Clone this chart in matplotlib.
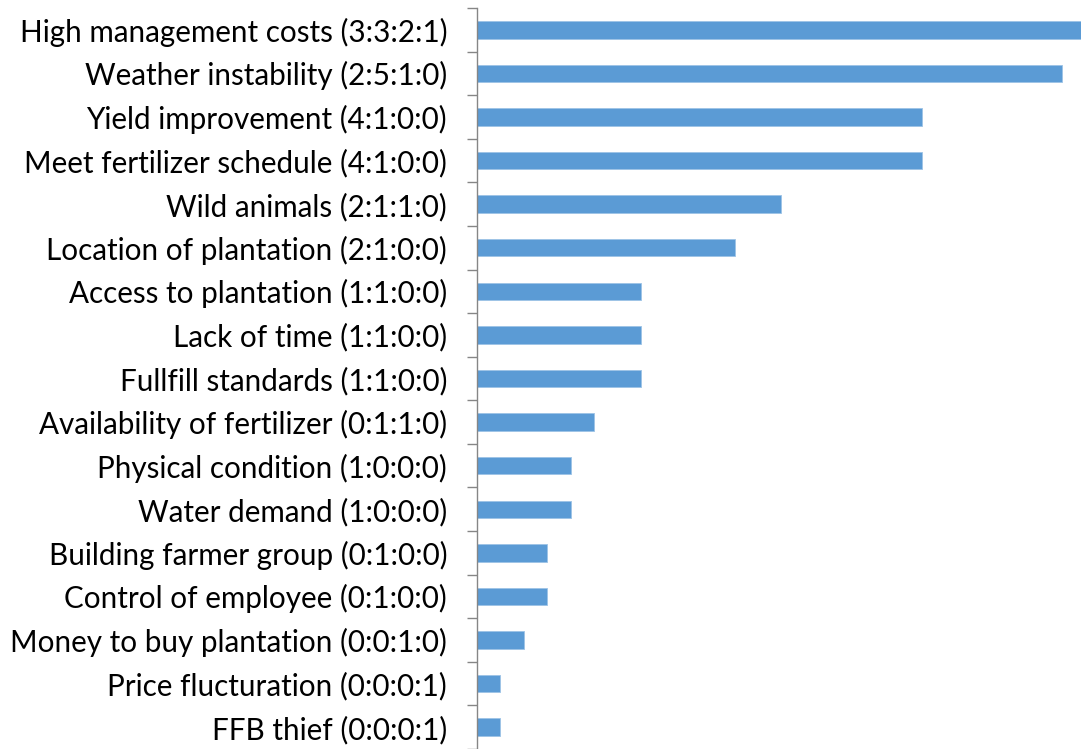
import matplotlib
matplotlib.use("Agg")
import matplotlib.pyplot as plt
import numpy as np

# categories, top to bottom
labels = [
    "High management costs (3:3:2:1)",
    "Weather instability (2:5:1:0)",
    "Yield improvement (4:1:0:0)",
    "Meet fertilizer schedule (4:1:0:0)",
    "Wild animals (2:1:1:0)",
    "Location of plantation (2:1:0:0)",
    "Access to plantation (1:1:0:0)",
    "Lack of time (1:1:0:0)",
    "Fullfill standards (1:1:0:0)",
    "Availability of fertilizer (0:1:1:0)",
    "Physical condition (1:0:0:0)",
    "Water demand (1:0:0:0)",
    "Building farmer group (0:1:0:0)",
    "Control of employee (0:1:0:0)",
    "Money to buy plantation (0:0:1:0)",
    "Price flucturation (0:0:0:1)",
    "FFB thief (0:0:0:1)",
]
scores = [26, 25, 19, 19, 13, 11, 7, 7, 7, 5, 4, 4, 3, 3, 2, 1, 1]

n = len(labels)
y = np.arange(n)[::-1]

fig = plt.figure(figsize=(10.81, 7.49), dpi=100)
ax = fig.add_axes([477 / 1081, 0.0, 1 - 477 / 1081, 1 - 8 / 749])

ax.barh(y, scores, height=0.4, color="#5B9BD5", edgecolor="#9DC3E6", linewidth=0.6)

ax.set_xlim(0, 25.8)
ax.set_ylim(-0.5, n - 0.5)

for s in ["top", "right", "bottom"]:
    ax.spines[s].set_visible(False)
ax.spines["left"].set_color("#868686")
ax.spines["left"].set_linewidth(1.0)

ax.set_xticks([])
ax.set_yticks(y)
ax.set_yticklabels(labels, fontsize=21.3, family="Lato", color="#000000")
ax.tick_params(axis="y", which="major", length=0, pad=21.5)
ax.set_yticks(np.arange(-0.5, n, 1.0), minor=True)
ax.tick_params(axis="y", which="minor", length=7, color="#868686", width=1.0)

fig.savefig("out.png", dpi=100)
